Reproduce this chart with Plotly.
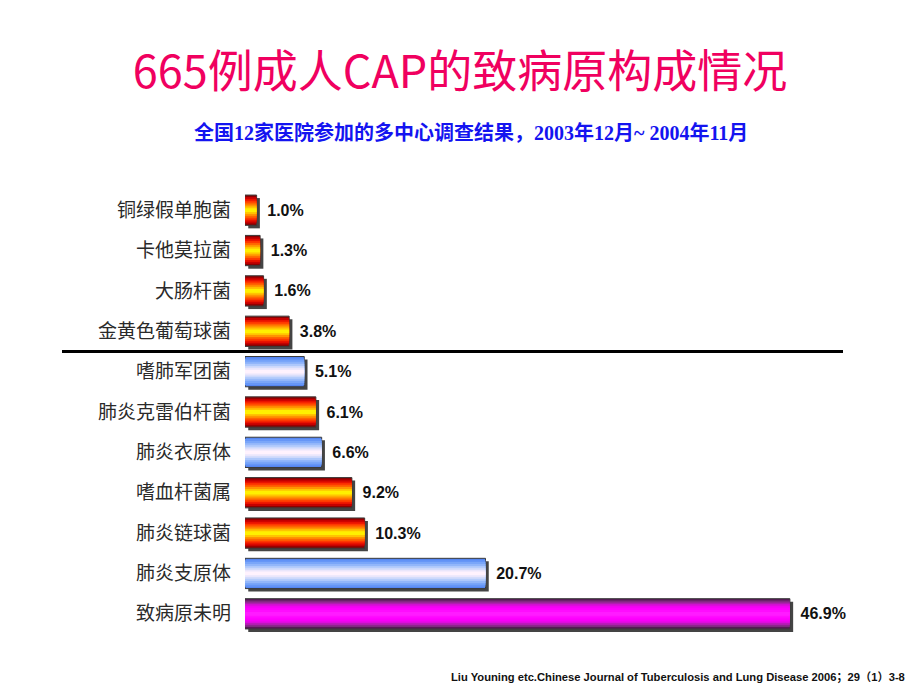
import plotly.graph_objects as go

# 665例成人CAP的致病原构成（%）
pathogens = ['铜绿假单胞菌', '卡他莫拉菌', '大肠杆菌', '金黄色葡萄球菌', '嗜肺军团菌',
             '肺炎克雷伯杆菌', '肺炎衣原体', '嗜血杆菌属', '肺炎链球菌', '肺炎支原体', '致病原未明']
percent = [1.0, 1.3, 1.6, 3.8, 5.1, 6.1, 6.6, 9.2, 10.3, 20.7, 46.9]
group = ['bacteria', 'bacteria', 'bacteria', 'bacteria', 'atypical',
         'bacteria', 'atypical', 'bacteria', 'bacteria', 'atypical', 'unknown']

# gradient bands, outer edge -> centre
bands = {
    'bacteria': ['#8a0000', '#c40000', '#ea1200', '#ff3800', '#ff6400', '#ff9400', '#ffc400', '#fff000'],
    'atypical': ['#5586f2', '#6696f7', '#7aa6f9', '#92b6fa', '#aec8fb', '#ccd8fb', '#eae6fb', '#fff2fd'],
    'unknown': ['#561856', '#802a80', '#b01eb0', '#dc0cdc', '#f600f6', '#ff00ff', '#ff0cff', '#ff1cff'],
}
bar_w = 0.75
n = len(bands['bacteria'])

fig = go.Figure()

# shadow
fig.add_trace(go.Bar(
    y=pathogens, x=percent, base=0.28, orientation='h',
    width=bar_w, offset=-bar_w / 2 + 0.075,
    marker=dict(color='#444444', line=dict(width=0)),
    hoverinfo='skip', showlegend=False))

for k in range(n):
    w = bar_w * (n - k) / n
    cols = [bands[g][k] for g in group]
    fig.add_trace(go.Bar(
        y=pathogens, x=percent, orientation='h', width=w,
        marker=dict(color=cols,
                    line=dict(width=1 if k == 0 else 0, color='#3a3a3a')),
        text=[f'\u00a0\u2009<b>{v:.1f}%</b>' for v in percent] if k == 0 else None,
        textposition='outside' if k == 0 else 'none',
        textfont=dict(family='Liberation Sans, Arial', size=16, color='#111111'),
        cliponaxis=False, showlegend=False,
        hovertemplate='%{y}: %{x:.1f}%<extra></extra>'))

fig.update_layout(
    width=920, height=690,
    paper_bgcolor='white', plot_bgcolor='white',
    barmode='overlay',
    margin=dict(l=245, r=36, t=190, b=56),
    title=dict(text='665例成人CAP的致病原构成情况', x=0.5, xanchor='center',
               y=1 - 72 / 690, yanchor='middle', yref='container',
               font=dict(family='Noto Sans CJK SC', size=45, color='#f0005f')),
    font=dict(family='Noto Sans CJK SC'),
    xaxis=dict(visible=False, range=[0, 55]),
    yaxis=dict(type='category', categoryorder='array', categoryarray=pathogens,
               range=[10.5, -0.5], showgrid=False, zeroline=False, showline=False,
               ticks='', ticklabelstandoff=13,
               tickfont=dict(family='Noto Sans CJK SC', size=19, color='#2a2a2a')),
)

fig.add_shape(type='line', xref='paper', yref='y',
              x0=(62 - 245) / 639, x1=(843 - 245) / 639, y0=3.5, y1=3.5,
              line=dict(color='black', width=3))

fig.add_annotation(text='<b>全国12家医院参加的多中心调查结果，2003年12月~ 2004年11月</b>',
                   xref='paper', yref='paper', x=(471 - 245) / 639, y=(634 - 132) / 444,
                   xanchor='center', yanchor='middle', showarrow=False,
                   font=dict(family='Liberation Serif, Noto Sans CJK SC', size=20, color='#1414f0'))

fig.add_annotation(text='<b>Liu Youning etc.Chinese Journal of Tuberculosis and Lung Disease 2006；29（1）3-8</b>',
                   xref='paper', yref='paper', x=(907 - 245) / 639, y=(634 - 677) / 444,
                   xanchor='right', yanchor='middle', showarrow=False,
                   font=dict(family='Liberation Sans, Noto Sans CJK SC', size=11.2, color='#111111'))

# page margin off so the 920x690 figure sits at the window's corner
fig.write_html('out.html', config={'displayModeBar': False},
               post_script="document.body.style.margin='0';")
